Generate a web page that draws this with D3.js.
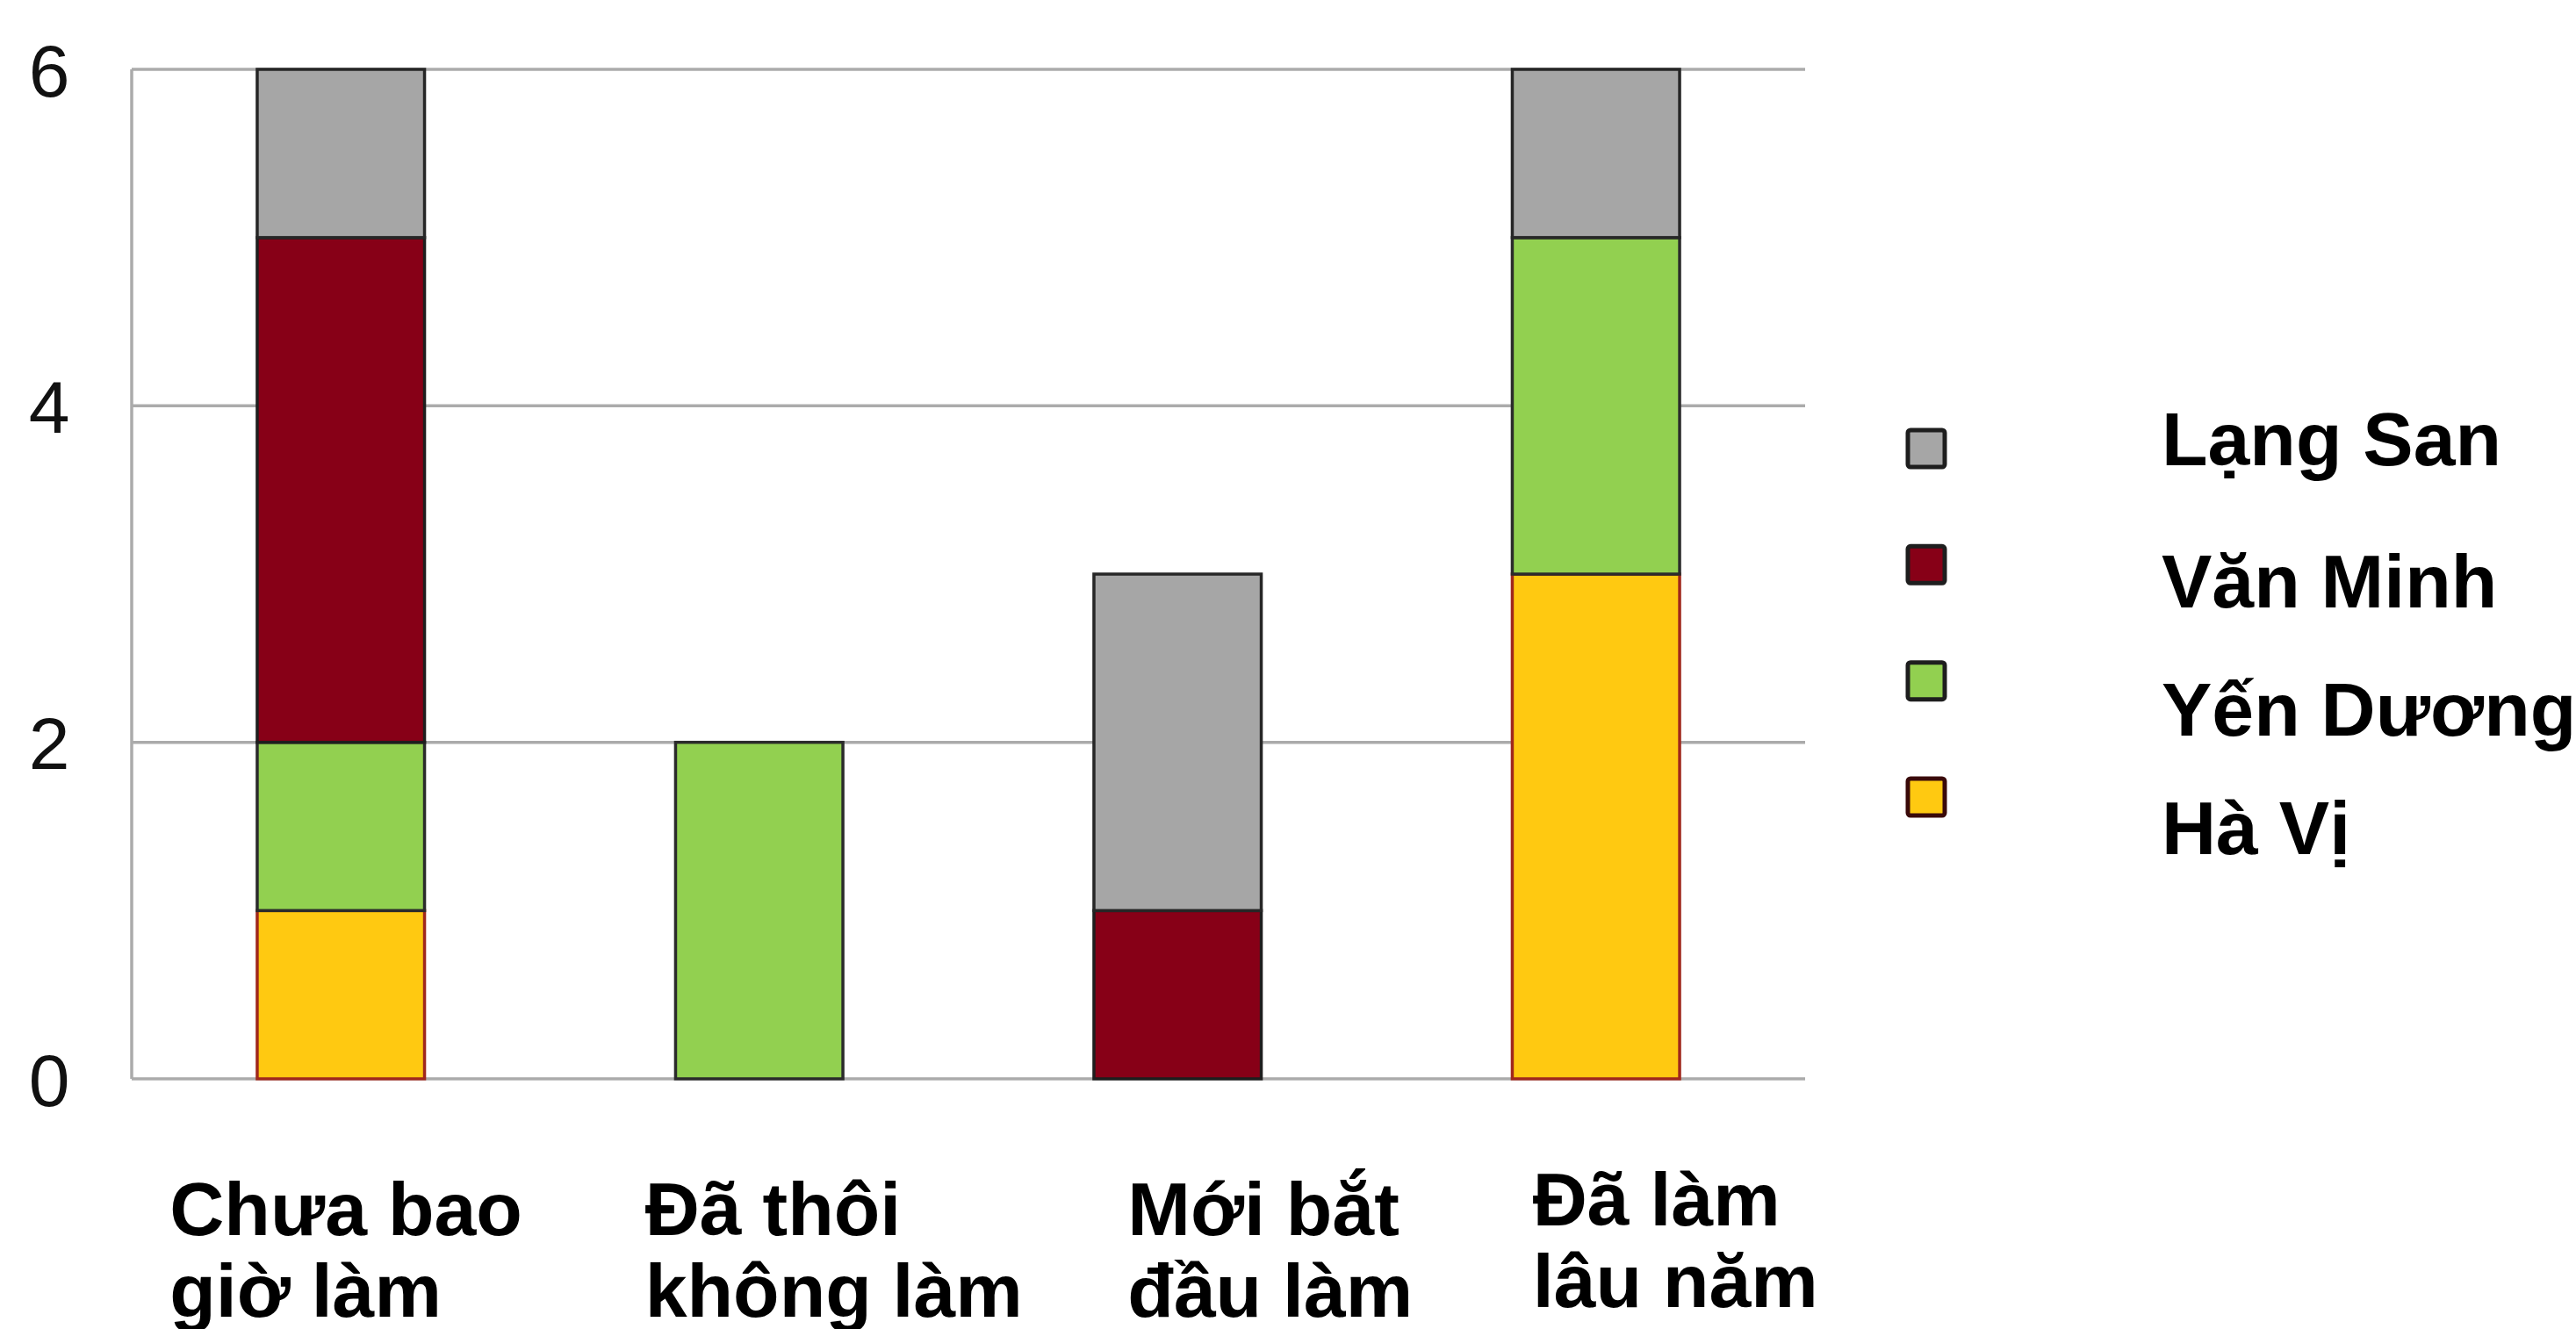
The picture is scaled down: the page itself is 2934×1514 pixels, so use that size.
<!DOCTYPE html>
<html>
<head>
<meta charset="utf-8">
<script src="https://cdn.jsdelivr.net/npm/d3@7"></script>
<style>
  body { margin: 0; background: #fff; }
  svg text { font-family: "Liberation Sans", Arial, sans-serif; }
</style>
</head>
<body>
<div id="chart"></div>
<script>
// Data______________________________________________________
const categories = [
    ["Chưa bao", "giờ làm"],
    ["Đã thôi", "không làm"],
    ["Mới bắt", "đầu làm"],
    ["Đã làm", "lâu năm"]
];
// series, bottom to top
const seriesNames = ["Hà Vị", "Yến Dương", "Văn Minh", "Lạng San"];
const haVi     = [1, 0, 0, 3];
const yenDuong = [1, 2, 0, 2];
const vanMinh  = [3, 0, 1, 0];
const langSan  = [1, 0, 2, 1];
const yTicks = [0, 2, 4, 6];

const colors  = ["#ffc911", "#92d050", "#870017", "#a6a6a6"];
const strokes = ["#a0281c", "#2b2b2b", "#1e1e1e", "#262626"];

// Layout____________________________________________________
const W = 2934, H = 1514;
const plot = { left: 150, right: 2056, top: 79, bottom: 1229 };
// label blocks are left aligned, a bit off the band centre
const labelShift = [-195, -130, -57, -72];
const labelBase  = [1407, 1407, 1407, 1396];

const svg = d3.select('#chart')
    .append('svg')
    .attr('width', W)
    .attr('height', H);

const rows = categories.map((c, i) => ({
    key: i,
    "Hà Vị": haVi[i],
    "Yến Dương": yenDuong[i],
    "Văn Minh": vanMinh[i],
    "Lạng San": langSan[i]
}));
const stacked = d3.stack().keys(seriesNames)(rows);

const xScale = d3.scaleBand()
    .domain(d3.range(categories.length))
    .range([plot.left, plot.right])
    .paddingInner(0.6)
    .paddingOuter(0.3);

const yScale = d3.scaleLinear()
    .domain([0, 6])
    .range([plot.bottom, plot.top]);

// Grid lines
svg.append('g')
    .selectAll('line')
    .data(yTicks)
    .enter()
    .append('line')
    .attr('x1', plot.left)
    .attr('x2', plot.right)
    .attr('y1', d => yScale(d))
    .attr('y2', d => yScale(d))
    .attr('stroke', '#ababab')
    .attr('stroke-width', 3.5);

svg.append('line')
    .attr('x1', plot.left).attr('x2', plot.left)
    .attr('y1', plot.top).attr('y2', plot.bottom)
    .attr('stroke', '#ababab')
    .attr('stroke-width', 3.5);

// Y axis labels
const yAxis = d3.axisLeft(yScale)
    .tickValues(yTicks)
    .tickFormat(d3.format('d'))
    .tickSize(0)
    .tickPadding(94);
svg.append('g')
    .attr('transform', `translate(${plot.left}, 0)`)
    .call(yAxis)
    .call(g => g.select('.domain').remove())
    .selectAll('text')
    .attr('text-anchor', 'middle')
    .attr('font-size', 84)
    .attr('fill', '#111')
    .attr('dy', '0.36em');

// Bars
svg.append('g')
    .selectAll('g')
    .data(stacked)
    .enter()
    .append('g')
    .attr('fill', (d, i) => colors[i])
    .attr('stroke', (d, i) => strokes[i])
    .attr('stroke-width', 3.5)
    .selectAll('rect')
    .data(d => d.filter(p => p[1] > p[0]))
    .enter()
    .append('rect')
    .attr('x', d => xScale(d.data.key))
    .attr('y', d => yScale(d[1]))
    .attr('width', xScale.bandwidth())
    .attr('height', d => yScale(d[0]) - yScale(d[1]));

// Category labels
const labels = svg.append('g')
    .selectAll('text')
    .data(categories)
    .enter()
    .append('text')
    .attr('font-size', 86)
    .attr('font-weight', 'bold')
    .attr('fill', '#000');
labels.each(function(lines, i) {
    const x = xScale(i) + xScale.bandwidth() / 2 + labelShift[i];
    d3.select(this).selectAll('tspan')
        .data(lines)
        .enter()
        .append('tspan')
        .attr('x', x)
        .attr('y', (l, j) => labelBase[i] + j * 93)
        .text(l => l);
});

// Legend (top entry is the top of the stack)
const legendNames = seriesNames.slice().reverse();
const legendColors = colors.slice().reverse();
const legendBoxY = d3.scalePoint().domain(legendNames).range([511, 908]);
const legendTextY = [530, 692, 838, 973];

const legend = svg.append('g');
legend.selectAll('rect')
    .data(legendNames)
    .enter()
    .append('rect')
    .attr('x', 2173)
    .attr('y', d => legendBoxY(d) - 21)
    .attr('width', 42)
    .attr('height', 42)
    .attr('rx', 3)
    .attr('fill', (d, i) => legendColors[i])
    .attr('stroke', (d, i) => i === 3 ? '#3a0a0a' : '#1e1e1e')
    .attr('stroke-width', 5);
legend.selectAll('text')
    .data(legendNames)
    .enter()
    .append('text')
    .attr('x', 2462)
    .attr('y', (d, i) => legendTextY[i])
    .attr('font-size', 86)
    .attr('font-weight', 'bold')
    .attr('fill', '#000')
    .text(d => d);
</script>
</body>
</html>
